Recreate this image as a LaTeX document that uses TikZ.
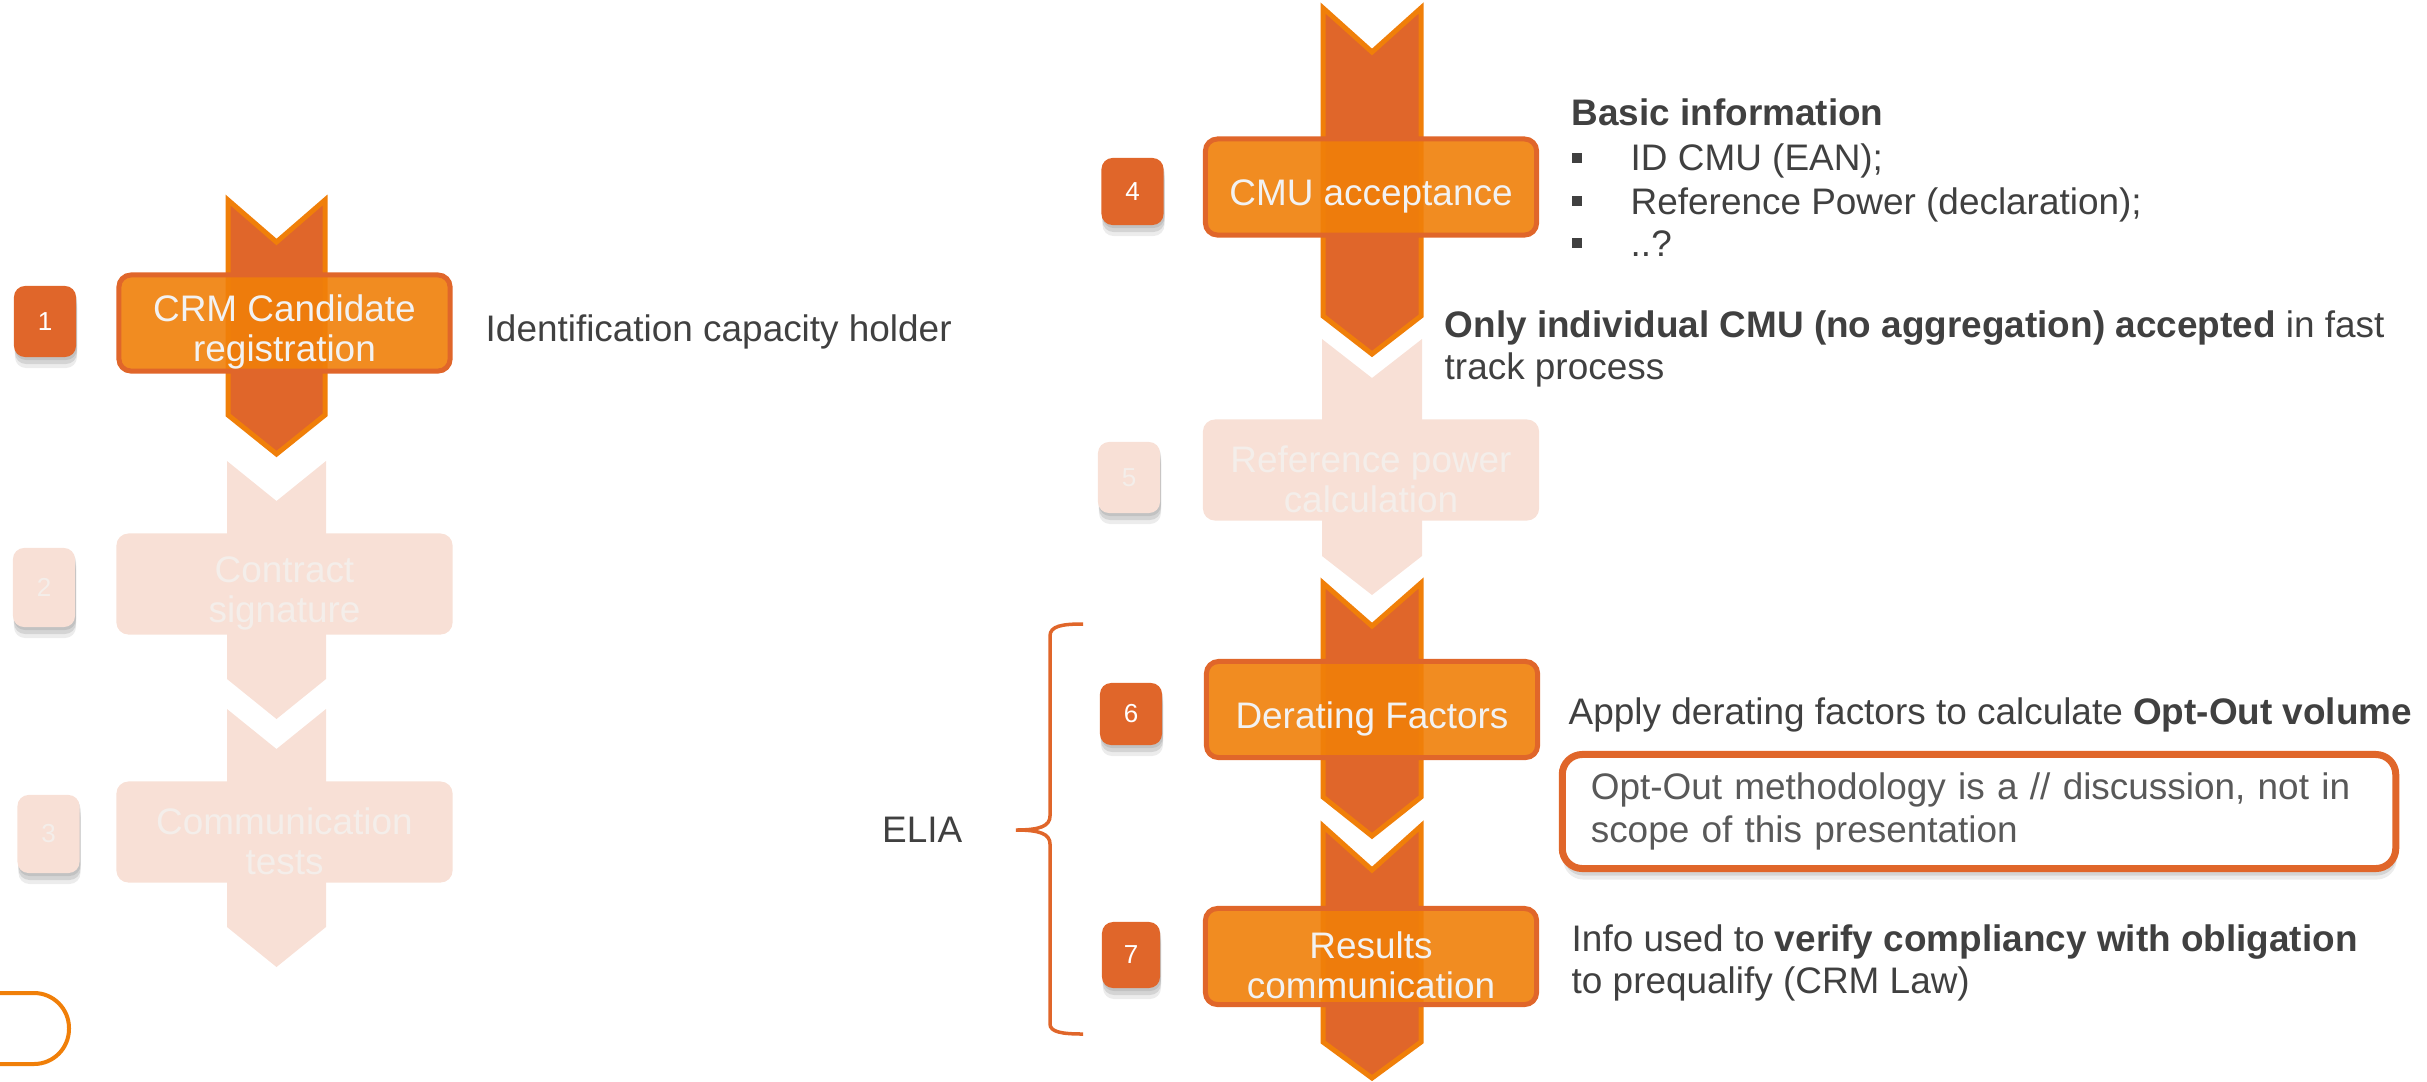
\documentclass[tikz,border=0pt]{standalone}
\usepackage{fontspec}
\setmainfont{Liberation Sans}
\usepackage{xcolor}
\usetikzlibrary{positioning,shadows}

\definecolor{eliadark}{RGB}{224,102,42}
\definecolor{eliaorange}{RGB}{240,127,9}
\definecolor{eliafade}{RGB}{248,224,214}
\definecolor{fadewhite}{RGB}{244,238,234}
\definecolor{textgrey}{RGB}{64,64,64}
\definecolor{notegrey}{RGB}{89,89,89}

\begin{document}
\begin{tikzpicture}[x=0.01cm,y=-0.01cm,
	chevron/.style={fill=eliadark,draw=eliaorange,line width=0.05cm},
	fadechevron/.style={fill=eliafade},
	stepbox/.style={draw=eliadark,line width=0.05cm,fill=eliaorange,fill opacity=0.9,rounded corners=0.12cm,minimum width=3.31cm,minimum height=0.96cm,inner sep=0pt},
	fadebox/.style={fill=eliafade,rounded corners=0.12cm,minimum width=3.36cm,minimum height=1.01cm,inner sep=0pt},
	steptext/.style={text=white!95!black,align=center,font=\fontsize{10.5}{11.4}\selectfont,inner sep=0pt},
	fadetext/.style={steptext,text=fadewhite},
	soft shadow/.style={drop shadow={shadow xshift=0.01cm,shadow yshift=-0.03cm,opacity=0.22},
		drop shadow={shadow xshift=0.01cm,shadow yshift=-0.07cm,opacity=0.22},
		drop shadow={shadow xshift=0.01cm,shadow yshift=-0.11cm,opacity=0.15}},
	badge/.style={fill=eliadark,rounded corners=0.11cm,minimum width=0.62cm,inner sep=0pt,text=white,font=\fontsize{7.4}{9}\selectfont,soft shadow},
	fadebadge/.style={badge,fill=eliafade,text=fadewhite},
	note/.style={text=textgrey,font=\fontsize{10.5}{12}\selectfont,inner sep=0pt,align=left},
	bullet/.style={fill=textgrey,minimum size=0.1cm,inner sep=0pt},
	notebox/.style={draw=eliadark,line width=0.07cm,fill=white,rounded corners=0.2cm,text=notegrey,align=left,font=\fontsize{10.5}{12}\selectfont,soft shadow},
	brace/.style={draw=eliadark,line width=0.035cm}]
	
	\useasboundingbox (0,0) rectangle (2427,1081);
	
	% arrows, left column
	\fill[fadechevron] (227,461) -- (276.5,501) -- (326,461) -- (326,679) -- (276.5,719) -- (227,679) -- cycle;
	\fill[fadechevron] (227,709) -- (276.5,749) -- (326,709) -- (326,927) -- (276.5,967) -- (227,927) -- cycle;
	\draw[chevron] (228,200) -- (276.5,242) -- (325,200) -- (325,415) -- (276.5,454) -- (228,415) -- cycle;
	% arrows, right column
	\fill[fadechevron] (1322,339) -- (1372,378) -- (1422,339) -- (1422,556) -- (1372,595) -- (1322,556) -- cycle;
	\draw[chevron] (1323,8) -- (1372,52) -- (1421,8) -- (1421,316) -- (1372,354) -- (1323,316) -- cycle;
	\draw[chevron] (1323,583) -- (1372,626) -- (1421,583) -- (1421,797) -- (1372,836) -- (1323,797) -- cycle;
	\draw[chevron] (1323,826) -- (1372,870) -- (1421,826) -- (1421,1042) -- (1372,1078) -- (1323,1042) -- cycle;
	
	% steps
	\node[stepbox] (box1) at (284.5,323) {};
	\node[steptext] at ([yshift=-0.09cm]box1.center) {CRM Candidate\\registration};
	\node[fadebox] (box2) at (284.5,584) {};
	\node[fadetext] at ([yshift=-0.09cm]box2.center) {Contract\\signature};
	\node[fadebox] (box3) at (284.5,832) {};
	\node[fadetext] at ([yshift=-0.09cm]box3.center) {Communication\\tests};
	\node[stepbox] (box4) at (1371,187) {};
	\node[steptext] at ([yshift=-0.09cm]box4.center) {CMU acceptance};
	\node[fadebox] (box5) at (1371,470) {};
	\node[fadetext] at ([yshift=-0.09cm]box5.center) {Reference power\\calculation};
	\node[stepbox] (box6) at (1372,709.5) {};
	\node[steptext] at ([yshift=-0.09cm]box6.center) {Derating Factors};
	\node[stepbox] (box7) at (1371,956.5) {};
	\node[steptext] at ([yshift=-0.09cm]box7.center) {Results\\communication};
	
	% numbers
	\node[badge, minimum height=0.71cm] (num1) at (45,321.5) {1};
	\node[fadebadge, minimum height=0.79cm] (num2) at (44,587.5) {2};
	\node[fadebadge, minimum height=0.78cm] (num3) at (48.5,834) {3};
	\node[badge, minimum height=0.67cm] (num4) at (1132.5,191.5) {4};
	\node[fadebadge, minimum height=0.71cm] (num5) at (1129,477.5) {5};
	\node[badge, minimum height=0.62cm] (num6) at (1131,714) {6};
	\node[badge, minimum height=0.66cm, minimum width=0.58cm] (num7) at (1131,955) {7};
	
	% texts
	\node[note, anchor=base west] (ident) at (485,341) {Identification capacity holder};
	\node[note, anchor=base west, font=\fontsize{10.5}{12}\selectfont\bfseries] (basic) at (1571,125) {Basic information};
	\node[bullet] (bul1) at (1577,158) {};
	\node[note, anchor=base west] (item1) at (1630,170) {ID CMU (EAN);};
	\node[bullet] (bul2) at (1577,201) {};
	\node[note, anchor=base west] (item2) at (1630,214) {Reference Power (declaration);};
	\node[bullet] (bul3) at (1577,243) {};
	\node[note, anchor=base west] (item3) at (1630,256) {..?};
	\node[note, anchor=west] (only) at (1444,349) {\textbf{Only individual CMU (no aggregation) accepted} in fast\\track process};
	\node[note, anchor=base west] (apply) at (1568,724) {Apply derating factors to calculate \textbf{Opt-Out volume}};
	\node[notebox, text width=7.76cm, inner xsep=0.285cm, minimum height=1.14cm] (optout) at (1979,811.5) {Opt-Out methodology is a // discussion, not in\\scope of this presentation};
	\node[note, anchor=west] (info) at (1571,963) {Info used to \textbf{verify compliancy with obligation}\\to prequalify (CRM Law)};
	
	% ELIA brace
	\coordinate (tip) at (1016,830);
	\draw[brace] (1083,624) .. controls (1062,624) and (1050,626) .. (1050,636) -- (1050,816) .. controls (1050,826) and (1040,830) .. (tip) .. controls (1040,830) and (1050,834) .. (1050,844) -- (1050,1024) .. controls (1050,1032) and (1062,1034) .. (1083,1034);
	\node[note, left=0.53cm of tip] (elia) {ELIA};
	
	\draw[eliaorange, line width=0.04cm, rounded corners=0.35cm] (-10,993) -- (69,993) -- (69,1064) -- (-10,1064);
\end{tikzpicture}
\end{document}
